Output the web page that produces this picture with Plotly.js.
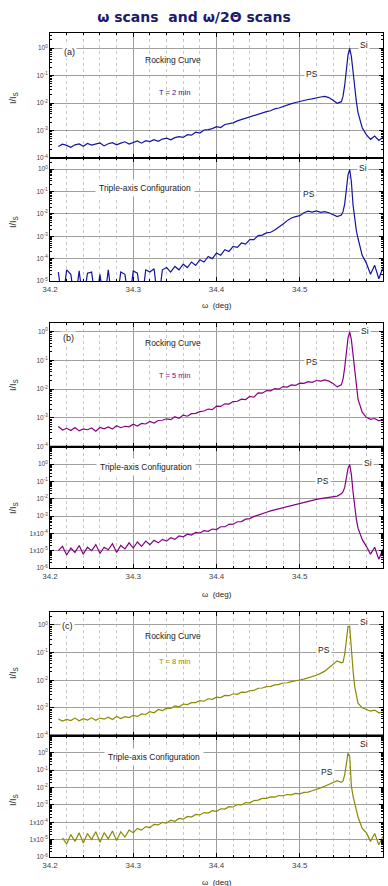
<!DOCTYPE html>
<html><head><meta charset="utf-8">
<script src="https://cdn.plot.ly/plotly-3.0.1.min.js"></script>
<style>html,body{margin:0;padding:0;background:#fff}#chart{width:388px;height:886px}</style>
</head><body><div id="chart"></div>
<script>
// omega (deg)
const omega = [34.210,34.215,34.220,34.225,34.230,34.235,34.240,34.245,34.250,34.255,
34.260,34.265,34.270,34.275,34.280,34.285,34.290,34.295,34.300,34.305,
34.310,34.315,34.320,34.325,34.330,34.335,34.340,34.345,34.350,34.355,
34.360,34.365,34.370,34.375,34.380,34.385,34.390,34.395,34.400,34.405,
34.410,34.415,34.420,34.425,34.430,34.435,34.440,34.445,34.450,34.455,
34.460,34.465,34.470,34.475,34.480,34.485,34.490,34.495,34.500,34.505,
34.510,34.515,34.520,34.525,34.530,34.535,34.540,34.545,34.550,34.552,
34.554,34.556,34.558,34.560,34.562,34.564,34.566,34.568,34.570,34.575,
34.580,34.585,34.590,34.595,34.600];

// log10(I/Is) values
const rockA = [-3.58,-3.50,-3.54,-3.61,-3.52,-3.49,-3.57,-3.47,-3.53,-3.50,
-3.45,-3.56,-3.48,-3.44,-3.52,-3.46,-3.41,-3.49,-3.43,-3.38,
-3.46,-3.37,-3.40,-3.33,-3.39,-3.31,-3.28,-3.34,-3.26,-3.22,
-3.25,-3.15,-3.17,-3.06,-3.09,-2.98,-2.97,-2.93,-2.86,-2.89,
-2.78,-2.75,-2.72,-2.65,-2.60,-2.57,-2.50,-2.46,-2.41,-2.36,
-2.31,-2.28,-2.21,-2.18,-2.12,-2.07,-2.02,-1.98,-1.94,-1.90,
-1.87,-1.85,-1.81,-1.78,-1.76,-1.80,-1.90,-2.01,-1.95,-1.75,
-1.35,-0.80,-0.25,-0.01,-0.30,-0.85,-1.45,-1.95,-2.35,-2.90,
-3.15,-3.32,-3.20,-3.36,-3.24];

const tripleA = [-4.6,-6,-4.5,-4.7,-6,-4.55,-6,-4.65,-4.6,-6,
-4.7,-6,-4.5,-6,-6,-4.6,-4.7,-6,-4.55,-4.65,
-6,-4.5,-4.6,-4.45,-6,-4.5,-4.4,-4.6,-4.35,-4.5,
-4.25,-4.4,-4.15,-4.3,-4.05,-4.15,-3.9,-4.0,-3.75,-3.85,
-3.6,-3.68,-3.45,-3.5,-3.3,-3.35,-3.15,-3.15,-2.97,-2.95,
-2.85,-2.82,-2.72,-2.6,-2.45,-2.3,-2.18,-2.12,-2.08,-1.95,
-1.88,-1.92,-1.87,-1.93,-1.90,-1.95,-2.02,-2.12,-2.05,-1.90,
-1.55,-0.90,-0.25,-0.02,-0.55,-1.60,-2.30,-2.75,-3.10,-3.85,
-4.2,-4.7,-4.3,-4.9,-4.4];

const rockB = [-3.30,-3.42,-3.36,-3.44,-3.33,-3.45,-3.38,-3.41,-3.35,-3.46,
-3.33,-3.38,-3.31,-3.39,-3.27,-3.34,-3.29,-3.31,-3.22,-3.28,
-3.19,-3.21,-3.12,-3.18,-3.09,-3.08,-3.03,-3.06,-2.96,-3.01,
-2.90,-2.94,-2.85,-2.84,-2.78,-2.76,-2.69,-2.71,-2.59,-2.60,
-2.51,-2.52,-2.43,-2.42,-2.35,-2.36,-2.25,-2.28,-2.13,-2.14,
-2.05,-2.06,-1.98,-2.00,-1.91,-1.93,-1.85,-1.87,-1.79,-1.80,
-1.74,-1.76,-1.70,-1.72,-1.68,-1.72,-1.80,-1.92,-1.85,-1.65,
-1.25,-0.75,-0.22,-0.01,-0.28,-0.80,-1.40,-1.95,-2.35,-2.80,
-2.98,-3.05,-3.02,-3.10,-3.05];

const tripleB = [-5.0,-4.75,-5.25,-4.85,-5.1,-4.7,-5.2,-4.8,-5.0,-4.65,
-5.15,-4.8,-4.95,-4.6,-5.1,-4.7,-4.9,-4.55,-4.85,-4.5,
-4.75,-4.45,-4.65,-4.4,-4.55,-4.35,-4.45,-4.25,-4.35,-4.15,
-4.2,-4.05,-4.1,-3.95,-3.98,-3.85,-3.88,-3.75,-3.78,-3.62,
-3.62,-3.48,-3.47,-3.33,-3.32,-3.18,-3.15,-3.02,-2.95,-2.85,
-2.78,-2.7,-2.64,-2.56,-2.5,-2.42,-2.38,-2.3,-2.25,-2.18,
-2.14,-2.08,-2.04,-2.0,-1.96,-1.93,-1.88,-1.85,-1.72,-1.6,
-1.35,-0.85,-0.25,-0.02,-0.6,-1.6,-2.5,-3.2,-3.7,-4.35,
-4.75,-5.2,-4.8,-5.5,-4.9];

const rockC = [-3.40,-3.48,-3.42,-3.46,-3.37,-3.47,-3.39,-3.44,-3.36,-3.45,
-3.37,-3.41,-3.34,-3.42,-3.31,-3.39,-3.32,-3.35,-3.27,-3.31,
-3.22,-3.24,-3.14,-3.18,-3.06,-3.10,-3.01,-3.02,-2.93,-2.96,
-2.86,-2.88,-2.81,-2.81,-2.74,-2.76,-2.67,-2.69,-2.61,-2.63,
-2.55,-2.56,-2.49,-2.51,-2.43,-2.44,-2.38,-2.37,-2.29,-2.28,
-2.23,-2.22,-2.17,-2.15,-2.10,-2.09,-2.05,-2.03,-1.99,-1.96,
-1.92,-1.88,-1.82,-1.75,-1.67,-1.55,-1.42,-1.30,-1.37,-1.35,
-1.05,-0.55,-0.06,-0.05,-0.95,-1.65,-2.23,-2.60,-2.83,-3.00,
-3.05,-3.12,-3.08,-3.18,-3.15];

const tripleC = [null,-4.9,-5.25,-4.7,-5.1,-4.6,-5.2,-4.65,-5.0,-4.55,
-5.15,-4.6,-4.95,-4.5,-5.05,-4.55,-4.85,-4.45,-4.6,-4.35,
-4.45,-4.25,-4.3,-4.12,-4.15,-4.0,-4.05,-3.88,-3.94,-3.78,
-3.82,-3.66,-3.70,-3.55,-3.58,-3.44,-3.47,-3.33,-3.37,-3.22,
-3.24,-3.10,-3.12,-2.98,-3.0,-2.86,-2.88,-2.75,-2.72,-2.62,
-2.62,-2.54,-2.55,-2.46,-2.47,-2.40,-2.42,-2.34,-2.36,-2.28,
-2.26,-2.18,-2.12,-2.02,-1.92,-1.80,-1.68,-1.60,-1.70,-1.62,
-1.25,-0.55,-0.02,-0.2,-1.9,-2.5,-2.85,-3.3,-3.7,-4.35,
-4.6,-5.1,-4.65,-5.3,-4.8];

const xTickVals = [34.2, 34.3, 34.4, 34.5, 34.6];
const xTickText = ['34.2', '34.3', '34.4', '34.5', '34.6'];
const yTickRock = [1, 0.1, 0.01, 0.001, 0.0001];
const yTextRock = ['10<sup>0</sup>','10<sup>-1</sup>','10<sup>-2</sup>','10<sup>-3</sup>','10<sup>-4</sup>'];
const yTickTripA = [1, 0.1, 0.01, 0.001, 0.0001, 0.00001];
const yTextTripA = ['10<sup>0</sup>','10<sup>-1</sup>','10<sup>-2</sup>','10<sup>-3</sup>','10<sup>-4</sup>','10<sup>-5</sup>'];
const yTickTrip = [1, 0.1, 0.01, 0.001, 0.0001, 0.00001, 0.000001];
const yTextTrip = ['10<sup>0</sup>','10<sup>-1</sup>','10<sup>-2</sup>','10<sup>-3</sup>','1x10<sup>-4</sup>','1x10<sup>-5</sup>','10<sup>-6</sup>'];

const colA = '#1414a0', colB = '#850085', colC = '#8a8a00';
const W = 388, H = 886, ML = 50, MR = 5;
const PW = W - ML - MR;
// pixel -> paper (paper x spans the plotting area)
const px = v => (v - ML) / PW, py = v => 1 - v / H;
const toLin = arr => arr.map(v => v === null ? null : Math.pow(10, v));

// minor log tick positions (2..9 x 10^d) for an axis range
function minorVals(lo, hi) {
  const out = [];
  for (let d = Math.floor(lo); d <= Math.ceil(hi); d++) {
    for (let k = 2; k <= 9; k++) {
      const v = k * Math.pow(10, d);
      const lv = Math.log10(v);
      if (lv > lo && lv < hi) out.push(v);
    }
  }
  return out;
}

const series = [rockA, tripleA, rockB, tripleB, rockC, tripleC];
const colors = [colA, colA, colB, colB, colC, colC];
const traces = series.map((s, i) => ({
  type: 'scatter', mode: 'lines', x: omega, y: toLin(s),
  xaxis: i === 0 ? 'x' : 'x' + (i + 1), yaxis: i === 0 ? 'y' : 'y' + (i + 1),
  line: {color: colors[i], width: 1.2}, hoverinfo: 'skip', connectgaps: false
}));

// panel pixel boxes [top, bottom] and log ranges
const boxes = [[33,158],[158,281],[323,446.7],[446.7,568],[612,735.5],[735.5,857]];
const ranges = [[-4,0.55],[-5,0.5],[-4,0.3],[-6,1],[-4,0.47],[-6,1]];
const ticks = [[yTickRock,yTextRock],[yTickTripA,yTextTripA],[yTickRock,yTextRock],[yTickTrip,yTextTrip],[yTickRock,yTextRock],[yTickTrip,yTextTrip]];

const layout = {
  width: W, height: H, margin: {l: ML, r: MR, t: 0, b: 0},
  paper_bgcolor: '#fff', plot_bgcolor: '#fff', showlegend: false,
  font: {family: 'Liberation Sans, Arial, sans-serif', color: '#222'},
  title: {text: 'ω scans  and ω/2Θ scans', xref: 'paper', x: px(194), xanchor: 'center', y: py(17), yanchor: 'middle',
    font: {family: 'DejaVu Sans, Verdana, sans-serif', size: 14, color: '#1b1b6e', weight: 'bold'}},
  annotations: [], shapes: []
};

for (let i = 0; i < 6; i++) {
  const xa = i === 0 ? 'xaxis' : 'xaxis' + (i + 1);
  const ya = i === 0 ? 'yaxis' : 'yaxis' + (i + 1);
  const triple = i % 2 === 1;
  layout[xa] = {
    anchor: i === 0 ? 'y' : 'y' + (i + 1), domain: [0, 1], range: [34.2, 34.6],
    tickmode: 'array', tickvals: xTickVals, ticktext: xTickText,
    showticklabels: triple, tickfont: {size: 8, color: '#444'},
    ticks: 'inside', ticklen: 4, tickcolor: '#000', tickwidth: 1, mirror: 'allticks',
    showline: true, linecolor: '#000', linewidth: 1,
    showgrid: true, gridcolor: '#9c9c9c', gridwidth: 1, zeroline: false,
    minor: {dtick: 0.02, tick0: 34.2, ticks: 'inside', ticklen: 2, tickcolor: '#000', showgrid: true, gridcolor: '#c8c8c8', griddash: 'dot', gridwidth: 1}
  };
  layout[ya] = {
    anchor: i === 0 ? 'x' : 'x' + (i + 1), type: 'log',
    domain: [py(boxes[i][1]), py(boxes[i][0])], range: ranges[i],
    tickmode: 'array', tickvals: ticks[i][0], ticktext: ticks[i][1],
    tickfont: {size: 6.5, color: '#444'},
    ticks: 'inside', ticklen: 4, tickcolor: '#000', mirror: 'allticks',
    showline: true, linecolor: '#000', linewidth: 1,
    showgrid: true, gridcolor: '#a0a0a0', gridwidth: 1, zeroline: false,
    minor: {tickmode: 'array', tickvals: minorVals(ranges[i][0], ranges[i][1]), ticks: 'inside', ticklen: 2, tickcolor: '#000', showgrid: false}
  };
  if (!triple) {
    layout.shapes.push({type: 'line', xref: 'paper', yref: 'paper', x0: 0, x1: 1, y0: py(boxes[i][1]), y1: py(boxes[i][1]), line: {color: '#000', width: 2}});
  }
}

function ann(text, x, y, size, opts) {
  const a = Object.assign({text: text, xref: 'paper', yref: 'paper', x: px(x), y: py(y), xanchor: 'center', yanchor: 'middle', showarrow: false,
    font: {size: size, color: '#222', family: 'Liberation Sans, Arial, sans-serif'}}, opts || {});
  layout.annotations.push(a);
}
const bg = {bgcolor: '#fff', borderpad: 1};
// panel (a)
ann('(a)', 69, 52, 9, bg);
ann('Rocking Curve', 173, 60, 8.5);
ann('T = 2 min', 174, 92, 7.5, {font: {size: 7.5, color: colA, family: 'Liberation Sans, Arial, sans-serif'}});
ann('PS', 312, 74, 8.5, bg);
ann('Si', 364, 45, 8.5, bg);
ann('Triple-axis Configuration', 145, 188, 8.5, {bgcolor: '#fff', borderpad: 3});
ann('PS', 309, 194, 8.5, bg);
ann('Si', 363, 168, 8.5, bg);
ann('ω  (deg)', 217, 305, 8);
ann('I/I<sub>S</sub>', 13, 98, 9, {textangle: -90});
ann('I/I<sub>S</sub>', 13, 222, 9, {textangle: -90});
// panel (b)
ann('(b)', 68, 338, 9, bg);
ann('Rocking Curve', 173, 343, 8.5);
ann('T = 5 min', 174, 375, 7.5, {font: {size: 7.5, color: colB, family: 'Liberation Sans, Arial, sans-serif'}});
ann('PS', 312, 362, 8.5, bg);
ann('Si', 365, 331, 8.5, bg);
ann('Triple-axis Configuration', 146, 467, 8.5, {bgcolor: '#fff', borderpad: 3});
ann('PS', 323, 481, 8.5, bg);
ann('Si', 368, 463, 8.5, bg);
ann('ω  (deg)', 217, 594, 8);
ann('I/I<sub>S</sub>', 13, 385, 9, {textangle: -90});
ann('I/I<sub>S</sub>', 13, 508, 9, {textangle: -90});
// panel (c)
ann('(c)', 67, 626, 9, bg);
ann('Rocking Curve', 173, 636, 8.5);
ann('T = 8 min', 174, 661, 7.5, {font: {size: 7.5, color: colC, family: 'Liberation Sans, Arial, sans-serif'}});
ann('PS', 324, 650, 8.5, bg);
ann('Si', 364, 622, 8.5, bg);
ann('Triple-axis Configuration', 154, 757, 8.5, {bgcolor: '#fff', borderpad: 3});
ann('PS', 327, 772, 8.5, bg);
ann('Si', 364, 744, 8.5, bg);
ann('ω  (deg)', 217, 882, 8);
ann('I/I<sub>S</sub>', 13, 673, 9, {textangle: -90});
ann('I/I<sub>S</sub>', 13, 800, 9, {textangle: -90});

Plotly.newPlot('chart', traces, layout, {staticPlot: true, displayModeBar: false});
</script></body></html>
